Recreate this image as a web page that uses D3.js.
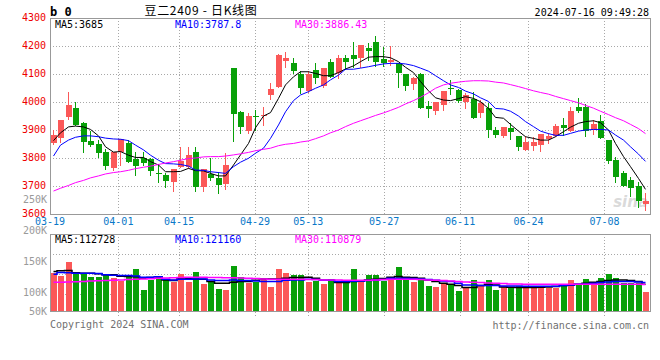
<!DOCTYPE html>
<html>
<head>
<meta charset="utf-8">
<title>豆二2409 日K线图</title>
<script src="https://cdn.jsdelivr.net/npm/d3@7"></script>
<style>
  body { margin: 0; background: #fff; }
  text { font-family: "DejaVu Sans Mono", "Liberation Mono", monospace; font-size: 10px; }
</style>
</head>
<body>
<script>
var width = 660, height = 360

// trading days shown on the chart
var dates = ["03-19","03-20","03-21","03-22","03-25","03-26","03-27","03-28","03-29",
  "04-01","04-02","04-03","04-08","04-09","04-10","04-11","04-12","04-15","04-16","04-17","04-18","04-19",
  "04-22","04-23","04-24","04-25","04-26","04-29","04-30",
  "05-06","05-07","05-08","05-09","05-10","05-13","05-14","05-15","05-16","05-17",
  "05-20","05-21","05-22","05-23","05-24","05-27","05-28","05-29","05-30","05-31",
  "06-03","06-04","06-05","06-06","06-07","06-11","06-12","06-13","06-14",
  "06-17","06-18","06-19","06-20","06-21","06-24","06-25","06-26","06-27","06-28",
  "07-01","07-02","07-03","07-04","07-05","07-08","07-09","07-10","07-11","07-12","07-15","07-16"]

var open = [3852,3873,3948,3979,3925,3861,3849,3821,3765,3821,3852,3795,3800,3795,3746,3740,3714,3769,3767,3821,
  3698,3743,3729,3707,4121,3964,3898,3950,3950,4025,4055,4148,4138,4099,4040,4114,4057,4144,4102,4157,
  4168,4156,4192,4214,4154,4144,4138,4100,4063,4100,3986,3968,3989,4051,4043,4001,4010,3962,3980,3900,
  3880,3908,3879,3829,3843,3846,3868,3879,3918,3898,3982,3981,3900,3932,3864,3793,3745,3721,3700,3636]
var high = [3900,3936,4036,4000,3930,3895,3864,3831,3822,3867,3864,3821,3821,3800,3777,3745,3761,3840,3840,3840,
  3760,3800,3751,3817,4121,3967,3960,3971,3981,4067,4171,4179,4156,4112,4112,4138,4123,4152,4168,4167,
  4214,4202,4210,4236,4198,4200,4138,4100,4090,4102,4004,4001,4039,4079,4045,4033,4037,4007,3998,3910,
  3912,3924,3879,3879,3876,3886,3890,3921,3942,3983,4013,3993,3936,3952,3864,3805,3754,3733,3716,3674]
var low = [3850,3858,3938,3918,3821,3843,3805,3760,3757,3775,3787,3740,3775,3741,3716,3698,3683,3769,3765,3683,
  3683,3721,3674,3688,3862,3890,3890,3900,3918,4011,4055,4126,4102,4031,4036,4067,4052,4090,4085,4117,
  4126,4124,4150,4129,4130,4132,4052,4043,4046,3978,3945,3957,3971,4029,4001,3980,3944,3948,3876,3876,
  3874,3868,3829,3829,3830,3826,3855,3879,3882,3898,3966,3879,3886,3870,3781,3716,3700,3665,3626,3614]
var close = [3882,3936,3989,3918,3858,3846,3819,3773,3821,3867,3787,3773,3783,3755,3744,3719,3761,3789,3811,3698,
  3760,3727,3704,3775,3958,3912,3950,3946,3952,4046,4168,4156,4112,4051,4100,4087,4123,4090,4158,4144,
  4152,4202,4183,4144,4138,4150,4105,4058,4085,3979,3976,4001,4039,4045,4004,4025,3944,3995,3900,3882,
  3910,3894,3838,3857,3857,3886,3879,3914,3908,3968,3968,3898,3921,3870,3790,3733,3700,3694,3646,3648]

// moving averages of the price
var ma5 = [3862,3890,3911,3914,3911,3902,3879,3840,3821,3823,3810,3802,3802,3787,3775,3751,3751,3752,3763,3755,
  3754,3745,3736,3736,3775,3811,3852,3908,3950,3962,4013,4061,4090,4108,4108,4102,4094,4094,4105,4118,
  4129,4144,4160,4162,4162,4158,4144,4124,4105,4073,4040,4015,4007,4005,4012,4019,4013,4001,3977,3945,
  3942,3920,3896,3876,3870,3864,3864,3876,3894,3910,3924,3930,3933,3926,3900,3852,3805,3769,3727,3688]
var ma10 = [3807,3846,3864,3874,3879,3879,3876,3871,3868,3867,3862,3846,3829,3810,3792,3780,3779,3777,3771,3757,
  3756,3751,3748,3745,3769,3785,3799,3817,3835,3870,3918,3965,4005,4025,4037,4049,4061,4079,4096,4117,
  4117,4121,4126,4131,4136,4138,4138,4136,4130,4121,4110,4094,4076,4061,4052,4039,4029,4015,4002,3977,
  3975,3967,3950,3930,3912,3896,3887,3881,3881,3888,3896,3900,3902,3902,3900,3882,3864,3840,3814,3788]
var ma30 = [3682,3692,3702,3712,3720,3729,3736,3743,3748,3751,3756,3762,3767,3771,3777,3782,3787,3792,3798,3800,
  3804,3805,3805,3807,3811,3815,3820,3826,3831,3835,3844,3849,3852,3857,3861,3869,3879,3890,3900,3912,
  3924,3933,3943,3952,3961,3970,3981,3993,4005,4017,4033,4049,4061,4067,4071,4074,4076,4076,4075,4071,
  4068,4062,4055,4048,4040,4034,4028,4020,4012,4005,3997,3988,3978,3967,3955,3944,3933,3920,3905,3887]

var volume = [136400,132000,153800,134700,136400,130900,130900,134700,128200,124400,
  132000,142400,109700,125500,132600,125500,122800,134700,122800,139100,
  118400,124400,111400,109700,147300,129800,121100,121700,127100,113500,
  142400,137500,133100,133100,121700,123300,118400,127700,122800,125000,
  142400,121700,134200,134200,124400,129300,146200,130400,121700,127700,
  116300,113500,120100,119000,108100,111900,126000,117300,126000,109700,
  115700,114600,116300,111900,111900,111900,113000,111900,118400,126000,
  118400,127700,118400,129300,135800,129300,120100,120100,120100,106500]
var volMa5 = [139100,140200,140700,136900,136400,136400,135300,133700,133700,131500,
  130900,130400,128200,129300,130400,125500,124400,127700,127700,126600,
  126600,122800,120100,120100,121700,122800,122800,125000,127100,127100,
  127100,128200,129300,129300,129800,128200,125000,125000,121100,121100,
  122800,123900,125500,126600,127700,129800,130900,129800,129300,128200,
  125500,122800,120100,118400,116300,113000,113000,116300,118400,117300,
  114100,113500,113000,113000,113000,113500,114100,114600,116300,117300,
  118400,120100,121700,122800,124400,125500,125500,124400,122800,118400]
var volMa10 = [134700,137500,136900,136400,136400,136400,135800,133700,133100,132600,
  132600,132000,129800,129800,130400,126600,125500,126600,126600,127100,
  127100,125500,124400,124400,125500,124400,124400,123900,122800,122800,
  122800,125000,125500,125500,126600,126000,125000,125000,122800,122800,
  123300,123900,124400,125500,126000,128200,128200,128200,127700,127100,
  126000,125000,123900,122800,120100,117300,117300,116300,116300,116300,
  115700,115700,115700,115200,115200,115200,115200,115200,116300,117300,
  118400,119000,120100,121100,122200,122800,122800,122800,122200,121100]
var volMa30 = [121500,121800,122200,122600,123000,123500,124000,124500,125000,125500,
  126000,126500,127000,127500,128000,128500,129000,129500,129800,129800,
  129800,129500,129300,129000,128800,128500,128200,127700,127100,126600,
  126600,126600,126600,126600,126000,126000,125500,125500,125500,125000,
  125000,125000,125000,125500,126000,126600,126600,126600,126600,126000,
  125500,125000,124400,123900,122800,122200,121700,121100,120600,120100,
  119500,119000,118800,118600,118500,118500,118500,118500,118500,118500,
  118500,118500,118500,118500,118500,118500,118500,118500,118400,118000]

var xTicks = ["03-19","04-01","04-15","04-29","05-13","05-27","06-11","06-24","07-08"]
var priceTicks = [4300,4200,4100,4000,3900,3800,3700,3600]
var volTicks = [250000,200000,150000,100000,50000]
var maLegend = ["MA5:3685","MA10:3787.8","MA30:3886.43"]
var volLegend = ["MA5:112728","MA10:121160","MA30:110879"]
var maColors = ["#000000","#0000ff","#ff00ff"]

var red = "#fb5858", green = "#08a008"
var gridColor = "#a8a8a8"

var svg = d3.select("body").append("svg")
  .attr("width", width)
  .attr("height", height)

var x = d3.scaleBand().domain(dates).range([50, 650]).paddingInner(0.2).paddingOuter(0.1)
var xTick = d3.scalePoint().domain(dates).range([50, 650])   // grid / label positions
var y = d3.scaleLinear().domain([3600, 4300]).range([214, 18])
var yv = d3.scaleLinear().domain([75000, 200000]).range([311, 234])

function cx(i) { return Math.round(x(dates[i])) + 3 }

// ---- grid ----
var grid = svg.append("g").attr("stroke", gridColor).attr("stroke-dasharray", "1,2")
grid.selectAll(".hp").data(priceTicks.slice(1, -1)).enter().append("line")
  .attr("x1", 50).attr("x2", 650)
  .attr("y1", d => Math.round(y(d)) + 0.5).attr("y2", d => Math.round(y(d)) + 0.5)
grid.selectAll(".hv").data([167000, 135000, 102500]).enter().append("line")
  .attr("x1", 50).attr("x2", 650)
  .attr("y1", d => Math.round(yv(d)) + 0.5).attr("y2", d => Math.round(yv(d)) + 0.5)
grid.selectAll(".vp").data(xTicks.slice(1)).enter().append("line")
  .attr("x1", d => Math.round(xTick(d)) + 0.5).attr("x2", d => Math.round(xTick(d)) + 0.5)
  .attr("y1", 18).attr("y2", 214)
grid.selectAll(".vv").data(xTicks.slice(1)).enter().append("line")
  .attr("x1", d => Math.round(xTick(d)) + 0.5).attr("x2", d => Math.round(xTick(d)) + 0.5)
  .attr("y1", 234).attr("y2", 317)

// frames
svg.append("rect").attr("x", 50.5).attr("y", 18.5).attr("width", 600).attr("height", 196)
  .attr("fill", "none").attr("stroke", "#999")
svg.append("rect").attr("x", 50.5).attr("y", 234.5).attr("width", 600).attr("height", 77)
  .attr("fill", "none").attr("stroke", "#999")

// watermark
svg.append("text").attr("x", 648).attr("y", 207).attr("text-anchor", "end")
  .style("font-family", "DejaVu Sans").style("font-size", "15px").style("font-style", "italic")
  .style("font-weight", "bold").attr("fill", "#d0d0d0").attr("fill-opacity", 0.8).text("sina")

// ---- candles ----
var idx = d3.range(dates.length)
var candles = svg.append("g").selectAll("g").data(idx).enter().append("g")
  .attr("fill", i => close[i] >= open[i] ? red : green)
  .attr("stroke", i => close[i] >= open[i] ? red : green)
candles.append("line")
  .attr("x1", i => cx(i) - 0.5).attr("x2", i => cx(i) - 0.5)
  .attr("y1", i => Math.round(y(high[i]))).attr("y2", i => Math.round(y(low[i])) + 1)
candles.append("rect")
  .attr("stroke", "none")
  .attr("x", i => Math.round(x(dates[i])))
  .attr("width", Math.round(x.bandwidth()))
  .attr("y", i => Math.round(y(Math.max(open[i], close[i]))))
  .attr("height", i => Math.max(1, Math.round(y(Math.min(open[i], close[i]))) - Math.round(y(Math.max(open[i], close[i])))))

// price moving averages
var line = d3.line().x((d, i) => cx(i) - 0.5).y(d => y(d))
;[ma5, ma10, ma30].forEach(function(s, k) {
  svg.append("path").datum(s).attr("d", line)
    .attr("fill", "none").attr("stroke", maColors[k]).attr("stroke-width", 1)
})

// ---- volume ----
svg.append("g").selectAll("rect").data(idx).enter().append("rect")
  .attr("fill", i => close[i] >= open[i] ? red : green)
  .attr("x", i => Math.round(x(dates[i])))
  .attr("width", Math.round(x.bandwidth()))
  .attr("y", i => Math.round(yv(volume[i])))
  .attr("height", i => 311 - Math.round(yv(volume[i])))

var vline = d3.line().curve(d3.curveStep).x((d, i) => cx(i) - 0.5).y(d => yv(d))
;[volMa5, volMa10, volMa30].forEach(function(s, k) {
  svg.append("path").datum(s).attr("d", vline)
    .attr("fill", "none").attr("stroke", maColors[k]).attr("stroke-width", 1.5)
})

// ---- labels ----
svg.selectAll(".pl").data(priceTicks).enter().append("text")
  .attr("x", 46).attr("y", d => y(d) + 2.5).attr("text-anchor", "end")
  .attr("fill", "#ee0000").text(d => d)
svg.selectAll(".vl").data(volTicks).enter().append("text")
  .attr("x", 47).attr("y", d => Math.min(yv(d), 314.5)).attr("text-anchor", "end")
  .attr("fill", "#9a9a9a").text(d => (d / 1000) + "K")
svg.selectAll(".xl").data(xTicks).enter().append("text")
  .attr("x", d => xTick(d)).attr("y", 225).attr("text-anchor", "middle")
  .attr("fill", "#0a78c8").text(d => d)

var legX = [55, 175, 295]
svg.selectAll(".lg").data(maLegend).enter().append("text")
  .attr("x", (d, i) => legX[i]).attr("y", 27.5).attr("fill", (d, i) => maColors[i]).text(d => d)
svg.selectAll(".vlg").data(volLegend).enter().append("text")
  .attr("x", (d, i) => legX[i]).attr("y", 242.5).attr("fill", (d, i) => maColors[i]).text(d => d)

// header
svg.append("text").attr("x", 50).attr("y", 15.5)
  .style("font-size", "12px").style("font-weight", "bold").attr("fill", "#000").text("b 0")
svg.append("text").attr("x", 201).attr("y", 14.5).attr("text-anchor", "middle")
  .style("font-family", "'Noto Sans CJK SC', sans-serif").style("font-size", "12px")
  .style("letter-spacing", "0.7px")
  .attr("fill", "#000").text("豆二2409 - 日K线图")
svg.append("text").attr("x", 649).attr("y", 15.5).attr("text-anchor", "end")
  .attr("fill", "#000").text("2024-07-16 09:49:28")

// footer
svg.append("text").attr("x", 50).attr("y", 328).attr("fill", "#707070").text("Copyright 2024 SINA.COM")
svg.append("text").attr("x", 649).attr("y", 329).attr("text-anchor", "end")
  .attr("fill", "#707070").text("http://finance.sina.com.cn")
</script>
</body>
</html>
